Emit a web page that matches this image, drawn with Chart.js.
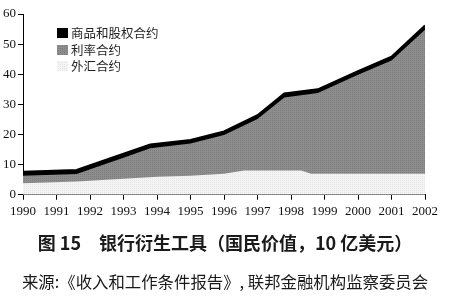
<!DOCTYPE html>
<html>
<head>
<meta charset="utf-8">
<script src="https://cdn.jsdelivr.net/npm/chart.js@4"></script>
<style>
  body { margin: 0; background: #fff; }
  #wrap { width: 450px; height: 300px; }
</style>
</head>
<body>
<div id="wrap"><canvas id="derivados"></canvas></div>
<script>
// upper edges of each layer (10 亿美元)
const anosTotal = [1990, 1991.6, 1993, 1993.8, 1995, 1996, 1997, 1997.8, 1998.8, 2000, 2001, 2002];
const topoTotal = [7.6, 8.2, 13.6, 16.7, 18.2, 21, 26.4, 33.6, 35, 41, 45.8, 56.2];
const topoJuros = [6.3, 6.9, 12.3, 15.4, 17, 19.8, 25.1, 32.3, 33.8, 39.8, 44.6, 54.8];
const anosCambio = [1990, 1991.6, 1993, 1994, 1995, 1996, 1996.6, 1998.3, 1998.6, 2002];
const topoCambio = [3.8, 4.4, 5.3, 6, 6.3, 7, 8, 8, 7, 7];

const nomes = ['商品和股权合约', '利率合约', '外汇合约'];
const titulo = '图 15　银行衍生工具（国民价值，10 亿美元）';
const fonte = '来源:《收入和工作条件报告》, 联邦金融机构监察委员会';

const pontilhado = (a, b) => {
    let c = document.createElement('canvas');
    c.width = 2; c.height = 2;
    let ctx = c.getContext('2d');
    ctx.fillStyle = a; ctx.fillRect(0, 0, 2, 2);
    ctx.fillStyle = b; ctx.fillRect(0, 0, 1, 1);
    return ctx.createPattern(c, 'repeat');
};

const corJuros = pontilhado('#8e8e8e', '#7a7a7a');
const corCambio = pontilhado('#f4f4f4', '#e4e4e4');

const pares = (xs, ys) => xs.map((x, i) => ({x: x, y: ys[i]}));

const legendaDentro = {
    id: 'legendaDentro',
    afterDatasetsDraw(chart) {
        const ctx = chart.ctx;
        const cores = ['#000', corJuros, corCambio];
        const linhas = [33, 50, 66];
        ctx.save();
        ctx.font = '12.5px "Noto Sans CJK SC"';
        ctx.textBaseline = 'middle';
        for (let i = 0; i < nomes.length; i++) {
            ctx.fillStyle = cores[i];
            ctx.fillRect(57, linhas[i] - 5, 11, 10);
            ctx.fillStyle = '#222';
            ctx.fillText(nomes[i], 71, linhas[i]);
        }
        ctx.restore();
    }
};

new Chart(document.getElementById('derivados'), {
    type: 'line',
    data: {
        datasets: [
            {
                label: nomes[2],
                data: pares(anosCambio, topoCambio),
                backgroundColor: corCambio,
                borderWidth: 0,
                fill: 'origin'
            },
            {
                label: nomes[1],
                data: pares(anosTotal, topoJuros),
                backgroundColor: corJuros,
                borderWidth: 0,
                fill: 'origin'
            },
            {
                label: nomes[0],
                data: pares(anosTotal, topoTotal),
                backgroundColor: '#000',
                borderColor: '#000',
                borderWidth: 2,
                fill: 'origin'
            }
        ]
    },
    options: {
        responsive: true,
        maintainAspectRatio: false,
        animation: false,
        elements: { point: { radius: 0 }, line: { tension: 0 } },
        layout: { padding: { top: 14, right: 0, left: 0, bottom: 0 } },
        plugins: {
            legend: { display: false },
            tooltip: { enabled: false },
            title: {
                display: true,
                text: titulo,
                position: 'bottom',
                weight: 1000,
                color: '#1a1a1a',
                font: { family: '"Noto Sans CJK SC"', size: 18, weight: 'bold' },
                padding: { top: 8, bottom: 0 }
            },
            subtitle: {
                display: true,
                text: fonte,
                position: 'bottom',
                weight: 2000,
                color: '#1a1a1a',
                font: { family: '"Noto Sans CJK SC"', size: 16.4 },
                padding: { top: 18, bottom: 8 }
            }
        },
        scales: {
            x: {
                type: 'linear',
                min: 1990,
                max: 2002,
                afterFit: (scale) => { scale.height = 30; scale.paddingRight = 25; },
                ticks: {
                    stepSize: 1,
                    color: '#111',
                    padding: 4,
                    maxRotation: 0,
                    font: { family: '"Liberation Serif"', size: 13 },
                    callback: (v) => String(v)
                },
                grid: { drawOnChartArea: false, tickLength: 5, color: '#000' },
                border: { color: '#000', width: 1 }
            },
            y: {
                min: 0,
                max: 60,
                afterFit: (scale) => { scale.width = 23; },
                ticks: {
                    stepSize: 10,
                    color: '#111',
                    padding: 2,
                    font: { family: '"Liberation Serif"', size: 13 }
                },
                grid: { drawOnChartArea: false, tickLength: 5, color: '#000' },
                border: { color: '#000', width: 1 }
            }
        }
    },
    plugins: [legendaDentro]
});
</script>
</body>
</html>
